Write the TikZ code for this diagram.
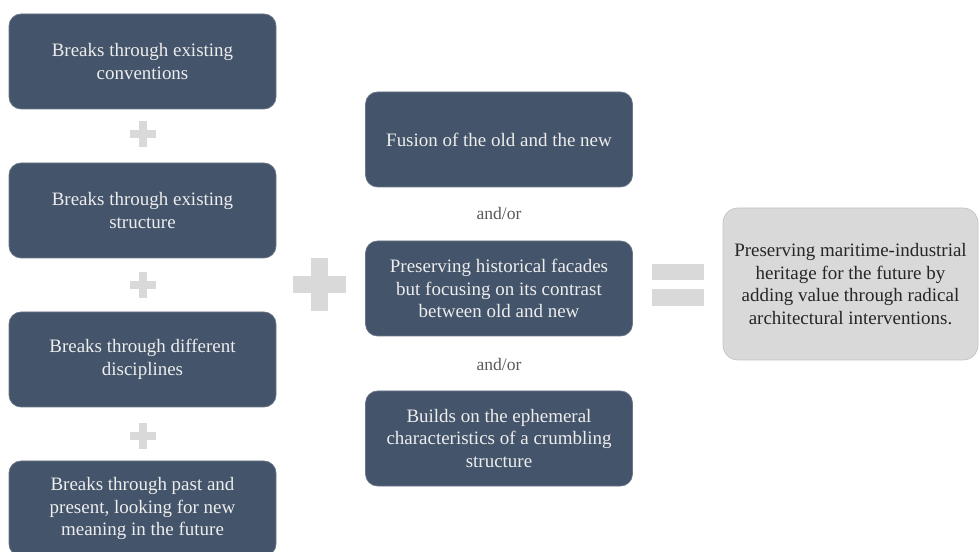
\documentclass[tikz,border=0pt]{standalone}
\usepackage{xcolor}
\usepackage{fontspec}
\setmainfont{Liberation Serif}
\usepackage{tikz}
\usetikzlibrary{positioning}
\definecolor{slateblue}{RGB}{68, 84, 106}
\definecolor{plusgray}{RGB}{217, 217, 217}
\definecolor{resultgray}{RGB}{217, 217, 217}
\definecolor{andgray}{RGB}{89, 89, 89}

\begin{document}
\begin{tikzpicture}[
    breakbox/.style={rectangle, rounded corners=0.24cm, fill=slateblue, draw=slateblue!80, text=white!93!black,
        minimum width=5.34cm, minimum height=1.9cm, align=center, font=\fontsize{10.8}{12.8}\selectfont},
    resultbox/.style={rectangle, rounded corners=0.3cm, fill=resultgray, draw=resultgray!90!black, text=black!85,
        minimum width=5.1cm, minimum height=3.04cm, align=center, font=\fontsize{10.8}{12.8}\selectfont},
    andor/.style={text=andgray, font=\fontsize{10}{12}\selectfont}
]
    \useasboundingbox (0,0) rectangle (19.58,-11.04);

    % left column
    \node[breakbox] (conventions) at (2.85,-1.23) {Breaks through existing\\conventions};
    \node[breakbox] (structure) at (2.85,-4.21) {Breaks through existing\\structure};
    \node[breakbox] (disciplines) at (2.85,-7.19) {Breaks through different\\disciplines};
    \node[breakbox] (pastpresent) at (2.85,-10.17) {Breaks through past and\\present, looking for new\\meaning in the future};

    % small plus signs
    \foreach \y in {-2.68,-5.70,-8.72} {
        \fill[plusgray] (2.59,\y-0.08) rectangle (3.11,\y+0.08);
        \fill[plusgray] (2.77,\y-0.26) rectangle (2.93,\y+0.26);
    }

    % big plus
    \fill[plusgray] (5.86,-5.53) rectangle (6.92,-5.87);
    \fill[plusgray] (6.22,-5.17) rectangle (6.56,-6.23);

    % middle column
    \node[breakbox] (fusion) at (9.98,-2.79) {Fusion of the old and the new};
    \node[andor] (andorone) at (9.98,-4.26) {and/or};
    \node[breakbox] (facades) at (9.98,-5.77) {Preserving historical facades\\but focusing on its contrast\\between old and new};
    \node[andor] (andortwo) at (9.98,-7.28) {and/or};
    \node[breakbox] (ephemeral) at (9.98,-8.77) {Builds on the ephemeral\\characteristics of a crumbling\\structure};

    % equals sign
    \fill[plusgray] (13.04,-5.28) rectangle (14.08,-5.60);
    \fill[plusgray] (13.04,-5.78) rectangle (14.08,-6.12);

    % result
    \node[resultbox] (heritage) at (17.01,-5.68) {Preserving maritime-industrial\\heritage for the future by\\adding value through radical\\architectural interventions.};
\end{tikzpicture}
\end{document}
